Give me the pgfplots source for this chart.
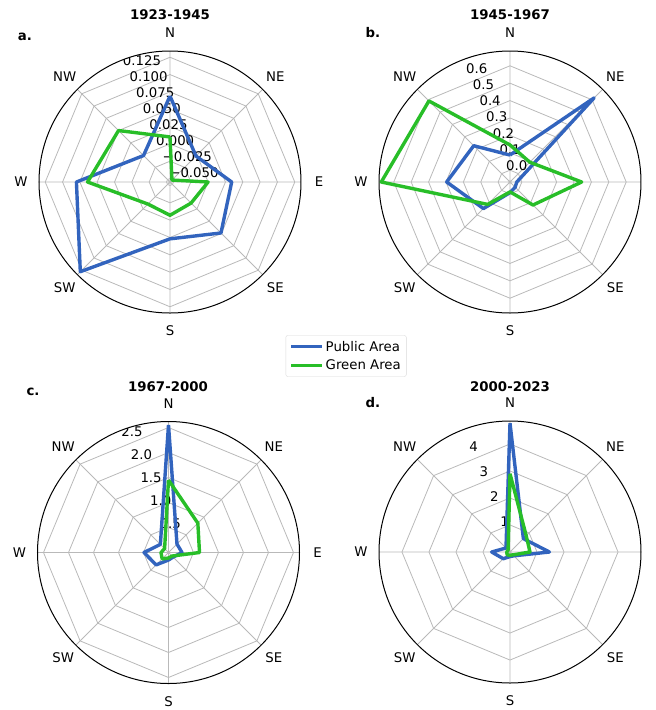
\documentclass[border=0pt]{standalone}
\usepackage{pgfplots}
\pgfplotsset{compat=1.18}
\usepgfplotslibrary{polar}
\usepackage{fontspec}
\setmainfont{DejaVu Sans}
\definecolor{pubblue}{RGB}{50,100,190}
\definecolor{grnarea}{RGB}{40,190,40}
\definecolor{gridgray}{RGB}{185,185,185}
\newcommand\lfont{\fontsize{13.3}{16}\selectfont}
\newcommand\rlab[2]{\node[anchor=south west, inner sep=0.5pt, font=\lfont] at (axis cs:112.5,#1) {#2};}
\pgfplotsset{
  radar/.style={
    scale only axis, width=262pt, height=262pt, anchor=center,
    xmin=0, xmax=360, ymin=0,
    xtick={0,45,...,315}, xticklabels={E,NE,N,NW,W,SW,S,SE},
    ytick=\empty,
    xmajorgrids=true, ymajorgrids=false,
    major grid style={gridgray, line width=0.8pt},
    axis line style={black, line width=1pt},
    y axis line style={draw=none},
    xtick style={draw=none},
    xticklabel style={font=\lfont, anchor=center, inner sep=0pt, shift={(\tick:18pt)}},
  },
  ring/.style={gridgray, line width=0.8pt, forget plot},
  pub/.style={pubblue, line width=3.4pt, line join=round},
  grn/.style={grnarea, line width=3.4pt, line join=round},
}
\begin{document}
\begin{tikzpicture}[font=\lfont]
\useasboundingbox (0,0) rectangle (656pt,-710pt);

% ---------- a. 1923-1945 ----------
\begin{polaraxis}[radar, at={(170pt,-182pt)}, ymax=0.189,
  y filter/.expression={y+0.055},
  legend style={at={(1.172,-0.164)}, anchor=center, draw=black!15, rounded corners=2pt,
    font=\lfont, inner sep=3.5pt, row sep=3pt},
  legend cell align=left,
  legend image code/.code={\draw[#1] (0pt,0pt) -- (31pt,0pt);},
]
\foreach \r in {-0.050,-0.025,0.000,0.025,0.050,0.075,0.100,0.125}{
  \addplot[ring] coordinates {(0,\r)(45,\r)(90,\r)(135,\r)(180,\r)(225,\r)(270,\r)(315,\r)(360,\r)};
}
\rlab{0.005}{−0.050}
\rlab{0.030}{−0.025}
\rlab{0.055}{0.000}
\rlab{0.080}{0.025}
\rlab{0.105}{0.050}
\rlab{0.130}{0.075}
\rlab{0.155}{0.100}
\rlab{0.180}{0.125}
\addplot[pub] coordinates {(90,0.069)(45,-0.002)(0,0.034)(315,0.049)(270,0.027)(225,0.128)(180,0.080)(135,-0.001)(90,0.069)};
\addlegendentry{Public Area}
\addplot[grn] coordinates {(90,0.010)(45,-0.051)(0,0.000)(315,-0.012)(270,-0.007)(225,-0.010)(180,0.064)(135,0.050)(90,0.010)};
\addlegendentry{Green Area}
\end{polaraxis}

% ---------- b. 1945-1967 ----------
\begin{polaraxis}[radar, at={(510pt,-182pt)}, ymax=0.753,
  y filter/.expression={y+0.068},
]
\foreach \r in {0.0,0.1,0.2,0.3,0.4,0.5,0.6}{
  \addplot[ring] coordinates {(0,\r)(45,\r)(90,\r)(135,\r)(180,\r)(225,\r)(270,\r)(315,\r)(360,\r)};
}
\rlab{0.068}{0.0}
\rlab{0.168}{0.1}
\rlab{0.268}{0.2}
\rlab{0.368}{0.3}
\rlab{0.468}{0.4}
\rlab{0.568}{0.5}
\rlab{0.668}{0.6}
\addplot[pub] coordinates {(90,0.087)(45,0.616)(0,-0.029)(315,-0.026)(270,-0.007)(225,0.148)(180,0.296)(135,0.227)(90,0.087)};
\addplot[grn] coordinates {(90,0.145)(45,0.093)(0,0.344)(315,0.119)(270,-0.011)(225,0.114)(180,0.672)(135,0.591)(90,0.145)};
\end{polaraxis}

% ---------- c. 1967-2000 ----------
\begin{polaraxis}[radar, at={(168.5pt,-552.5pt)}, ymax=2.62]
\foreach \r in {0.5,1.0,1.5,2.0,2.5}{
  \addplot[ring] coordinates {(0,\r)(45,\r)(90,\r)(135,\r)(180,\r)(225,\r)(270,\r)(315,\r)(360,\r)};
}
\rlab{0.5}{0.5}
\rlab{1.0}{1.0}
\rlab{1.5}{1.5}
\rlab{2.0}{2.0}
\rlab{2.5}{2.5}
\addplot[pub] coordinates {(90,2.55)(45,0.24)(0,0.27)(315,0.13)(270,0.15)(225,0.35)(180,0.49)(135,0.23)(90,2.55)};
\addplot[grn] coordinates {(90,1.45)(45,0.83)(0,0.62)(315,0.10)(270,0.11)(225,0.18)(180,0.15)(135,0.11)(90,1.45)};
\end{polaraxis}

% ---------- d. 2000-2023 ----------
\begin{polaraxis}[radar, at={(510pt,-552pt)}, ymax=4.85]
\foreach \r in {1,2,3,4}{
  \addplot[ring] coordinates {(0,\r)(45,\r)(90,\r)(135,\r)(180,\r)(225,\r)(270,\r)(315,\r)(360,\r)};
}
\rlab{1}{1}
\rlab{2}{2}
\rlab{3}{3}
\rlab{4}{4}
\addplot[pub] coordinates {(90,4.77)(45,0.70)(0,1.46)(315,0.20)(270,0.17)(225,0.35)(180,0.68)(135,0.21)(90,4.77)};
\addplot[grn] coordinates {(90,2.90)(45,0.85)(0,0.74)(315,0.15)(270,0.12)(225,0.15)(180,0.12)(135,0.10)(90,2.90)};
\end{polaraxis}

% titles and panel letters
\node[font=\lfont\bfseries] at (170pt,-15pt) {1923-1945};
\node[font=\lfont\bfseries] at (510pt,-15pt) {1945-1967};
\node[font=\lfont\bfseries] at (168pt,-387pt) {1967-2000};
\node[font=\lfont\bfseries] at (510pt,-387pt) {2000-2023};
\node[font=\lfont\bfseries] at (25pt,-37pt) {a.};
\node[font=\lfont\bfseries] at (373pt,-33pt) {b.};
\node[font=\lfont\bfseries] at (33pt,-392pt) {c.};
\node[font=\lfont\bfseries] at (373pt,-403pt) {d.};
\end{tikzpicture}
\end{document}
